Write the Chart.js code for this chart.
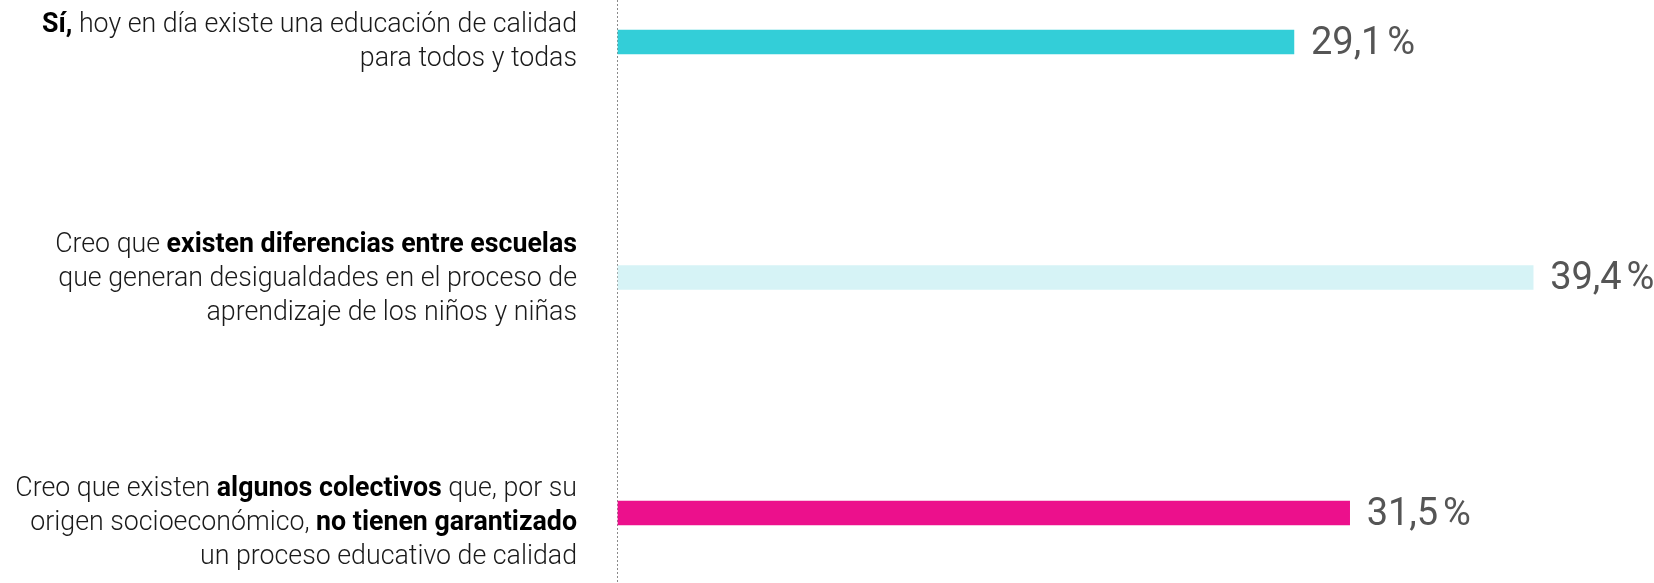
<!DOCTYPE html>
<html>
<head>
<meta charset="utf-8">
<script src="https://cdn.jsdelivr.net/npm/chart.js@4"></script>
<style>
  html, body { margin: 0; padding: 0; background: #fff; }
  #wrap { width: 1654px; height: 583px; position: relative; }
</style>
</head>
<body>
<div id="wrap"><canvas id="grafico"></canvas></div>
<script>
// categorias: cada linea es una lista de trozos [texto, negrita]
var categorias = [
  [
    [["Sí,", true], [" hoy en día existe una educación de calidad", false]],
    [["para todos y todas", false]]
  ],
  [
    [["Creo que ", false], ["existen diferencias entre escuelas", true]],
    [["que generan desigualdades en el proceso de", false]],
    [["aprendizaje de los niños y niñas", false]]
  ],
  [
    [["Creo que existen ", false], ["algunos colectivos", true], [" que, por su", false]],
    [["origen socioeconómico, ", false], ["no tienen garantizado", true]],
    [["un proceso educativo de calidad", false]]
  ]
];
var valores = [29.1, 39.4, 31.5];
var colores = ["#33CED8", "#D6F3F6", "#EC108C"];

var etiquetasIzq = {
  id: "etiquetasIzq",
  afterDraw: function (chart) {
    var ctx = chart.ctx;
    var yEje = chart.scales.y;
    var xEje = chart.scales.x;
    var derecha = xEje.left - 41;
    var altoLinea = 34;
    var desplaz = [0, 2, 10];
    ctx.save();
    ctx.textBaseline = "middle";
    for (var i = 0; i < categorias.length; i++) {
      var lineas = categorias[i];
      var yc = yEje.getPixelForValue(i) + desplaz[i];
      var y0 = yc - (lineas.length - 1) * altoLinea / 2;
      for (var j = 0; j < lineas.length; j++) {
        var trozos = lineas[j];
        // medir la linea entera primero
        var ancho = 0;
        for (var k = 0; k < trozos.length; k++) {
          ctx.font = (trozos[k][1] ? "700" : "300") + " 26.75px Roboto";
          ancho += ctx.measureText(trozos[k][0]).width;
        }
        var x = derecha - ancho;
        for (var k = 0; k < trozos.length; k++) {
          ctx.font = (trozos[k][1] ? "700" : "300") + " 26.75px Roboto";
          ctx.fillStyle = trozos[k][1] ? "#000" : "#1a1a1a";
          ctx.textAlign = "left";
          ctx.fillText(trozos[k][0], x, y0 + j * altoLinea);
          x += ctx.measureText(trozos[k][0]).width;
        }
      }
    }
    ctx.restore();
  }
};

var lineaPunteada = {
  id: "lineaPunteada",
  beforeDatasetsDraw: function (chart) {
    var ctx = chart.ctx;
    var x0 = Math.round(chart.scales.x.getPixelForValue(0)) - 0.5;
    ctx.save();
    ctx.strokeStyle = "#8a8a8a";
    ctx.lineWidth = 1;
    ctx.setLineDash([2, 2]);
    ctx.beginPath();
    ctx.moveTo(x0, 0);
    ctx.lineTo(x0, chart.height);
    ctx.stroke();
    ctx.restore();
  }
};

var valoresTexto = {
  id: "valoresTexto",
  afterDatasetsDraw: function (chart) {
    var ctx = chart.ctx;
    var meta = chart.getDatasetMeta(0);
    ctx.save();
    ctx.font = "400 38px Roboto";
    ctx.fillStyle = "#555";
    ctx.textAlign = "left";
    ctx.textBaseline = "middle";
    meta.data.forEach(function (barra, i) {
      var txt = valores[i].toFixed(1).replace(".", ",") + "\u202F%";
      ctx.fillText(txt, barra.x + 17, barra.y + 2);
    });
    ctx.restore();
  }
};

var ctx = document.getElementById("grafico");
var grafico = new Chart(ctx, {
  type: "bar",
  data: {
    labels: categorias.map(function (c, i) { return "c" + i; }),
    datasets: [{
      data: valores,
      backgroundColor: colores,
      borderWidth: 0,
      barThickness: 24,
      clip: false
    }]
  },
  options: {
    indexAxis: "y",
    responsive: true,
    maintainAspectRatio: false,
    animation: false,
    layout: { padding: { left: 618, top: 42, bottom: 70, right: 14 } },
    scales: {
      x: { display: false, min: 0, max: 44 },
      y: { display: false, offset: false }
    },
    plugins: {
      legend: { display: false },
      tooltip: { enabled: false }
    }
  },
  plugins: [lineaPunteada, valoresTexto, etiquetasIzq]
});
</script>
</body>
</html>
